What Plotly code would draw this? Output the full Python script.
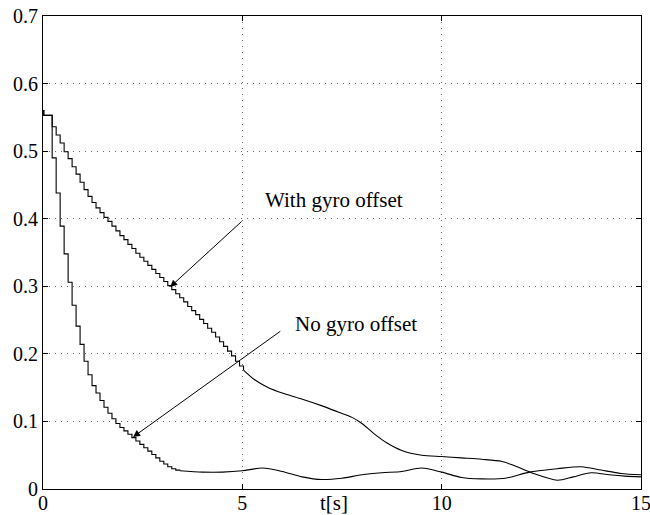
import plotly.graph_objects as go

# ---------------- data ----------------
SAMPLE_PERIOD = 0.1          # sample-and-hold period of the staircase part [s]
FIRST_STEP = 0.23            # time of the first visible step [s]

initial_times = [0.0, 0.02]
with_gyro_initial = [0.56, 0.553]
no_gyro_initial = [0.56, 0.553]

# staircase part, values held after each sample
with_gyro_steps = [0.536, 0.524, 0.512, 0.499, 0.489, 0.477, 0.466, 0.454, 0.443, 0.433,
                   0.424, 0.416, 0.409, 0.402, 0.396, 0.389, 0.382, 0.375, 0.369, 0.362,
                   0.356, 0.349, 0.343, 0.337, 0.331, 0.325, 0.319, 0.313, 0.307, 0.301,
                   0.295, 0.289, 0.283, 0.277, 0.270, 0.264, 0.258, 0.251, 0.245, 0.238,
                   0.232, 0.225, 0.218, 0.211, 0.204, 0.197, 0.189, 0.182, 0.176]
no_gyro_steps = [0.490, 0.438, 0.389, 0.348, 0.306, 0.272, 0.241, 0.214, 0.189, 0.169,
                 0.153, 0.142, 0.131, 0.121, 0.112, 0.104, 0.097, 0.091, 0.086, 0.081,
                 0.076, 0.071, 0.066, 0.061, 0.056, 0.051, 0.046, 0.041, 0.037, 0.033,
                 0.030, 0.028, 0.027]

# smooth tail part
with_gyro_tail_t = [5.3, 5.62, 6.0, 6.45, 7.0, 7.4, 7.75, 8.0, 8.3, 8.63, 9.0, 9.5, 10.0,
                    10.5, 11.0, 11.5, 11.8, 12.3, 12.9, 13.3, 13.75, 14.2, 14.6, 15.0]
with_gyro_tail_v = [0.162, 0.151, 0.142, 0.134, 0.123, 0.114, 0.106, 0.097, 0.082, 0.068,
                    0.057, 0.050, 0.048, 0.046, 0.044, 0.041, 0.035, 0.023, 0.013, 0.018,
                    0.024, 0.021, 0.019, 0.018]
no_gyro_tail_t = [4.0, 4.5, 5.0, 5.5, 6.0, 6.5, 7.0, 7.5, 8.0, 8.5, 9.0, 9.5, 10.0,
                  10.5, 11.0, 11.6, 12.2, 12.9, 13.5, 14.0, 14.5, 15.0]
no_gyro_tail_v = [0.025, 0.025, 0.027, 0.031, 0.026, 0.018, 0.014, 0.016, 0.021, 0.024,
                  0.026, 0.031, 0.025, 0.017, 0.015, 0.016, 0.025, 0.030, 0.033, 0.028,
                  0.023, 0.021]

x_ticks = [0, 5, 10, 15]
y_ticks = [0, 0.1, 0.2, 0.3, 0.4, 0.5, 0.6, 0.7]
x_tick_labels = ["0", "5", "10", "15"]
y_tick_labels = ["0", "0.1", "0.2", "0.3", "0.4", "0.5", "0.6", "0.7"]

label_with = "With gyro offset"
label_no = "No gyro offset"
x_title = "t[s]"
# annotation anchor points (data coords): text position, arrow tail, arrow tip
with_text_pos = (7.3, 0.427)
with_arrow_tail = (5.02, 0.398)
with_arrow_tip = (3.19, 0.299)
no_text_pos = (7.85, 0.244)
no_arrow_tail = (5.99, 0.235)
no_arrow_tip = (2.26, 0.077)

# ---------------- figure ----------------
def step_times(n):
    return [FIRST_STEP + SAMPLE_PERIOD * k for k in range(n)]

wg_t = initial_times + step_times(len(with_gyro_steps))
wg_v = with_gyro_initial + with_gyro_steps
ng_t = initial_times + step_times(len(no_gyro_steps))
ng_v = no_gyro_initial + no_gyro_steps

line_style = dict(color="black", width=1.1)
fig = go.Figure()
fig.add_trace(go.Scatter(x=wg_t, y=wg_v, mode="lines", line=dict(shape="hv", **line_style),
                         showlegend=False))
fig.add_trace(go.Scatter(x=[wg_t[-1]] + with_gyro_tail_t, y=[wg_v[-1]] + with_gyro_tail_v,
                         mode="lines", line=dict(shape="spline", smoothing=0.8, **line_style),
                         showlegend=False))
fig.add_trace(go.Scatter(x=ng_t, y=ng_v, mode="lines", line=dict(shape="hv", **line_style),
                         showlegend=False))
fig.add_trace(go.Scatter(x=[ng_t[-1]] + no_gyro_tail_t, y=[ng_v[-1]] + no_gyro_tail_v,
                         mode="lines", line=dict(shape="spline", smoothing=0.8, **line_style),
                         showlegend=False))

font_serif = "Liberation Serif, Times New Roman, serif"

axis_common = dict(
    showline=True, linecolor="black", linewidth=1, mirror="allticks",
    ticks="inside", ticklen=5, tickcolor="black", tickwidth=1,
    showgrid=True, gridcolor="#666666", gridwidth=1, griddash="1px,5px",
    zeroline=False, automargin=False, ticklabeloverflow="allow",
    tickfont=dict(family=font_serif, size=20, color="black"),
)
fig.update_xaxes(range=[0, 15], tickvals=x_ticks, ticktext=x_tick_labels, ticklabelstandoff=-4,
                 **axis_common)
fig.update_yaxes(range=[0, 0.7], tickvals=y_ticks, ticktext=y_tick_labels, **axis_common)

for pos, txt in [(with_text_pos, label_with), (no_text_pos, label_no)]:
    fig.add_annotation(x=pos[0], y=pos[1], text=txt, showarrow=False,
                       font=dict(family=font_serif, size=21, color="black"))
for tail, tip in [(with_arrow_tail, with_arrow_tip), (no_arrow_tail, no_arrow_tip)]:
    fig.add_annotation(x=tip[0], y=tip[1], ax=tail[0], ay=tail[1], axref="x", ayref="y",
                       text="", showarrow=True, arrowhead=2, arrowsize=1.4, arrowwidth=1,
                       arrowcolor="black")

fig.add_annotation(x=7.3, y=0, yref="paper", yanchor="middle", yshift=-14, text=x_title,
                   showarrow=False, font=dict(family=font_serif, size=21, color="black"))

fig.update_layout(
    width=650, height=515,
    margin=dict(l=43, r=9, t=16, b=26),
    plot_bgcolor="white", paper_bgcolor="white",
)
# remove the default 8 px page margin so the figure fills the window
fig.write_html("out.html", config={"displayModeBar": False},
               post_script="document.body.style.margin='0';")
